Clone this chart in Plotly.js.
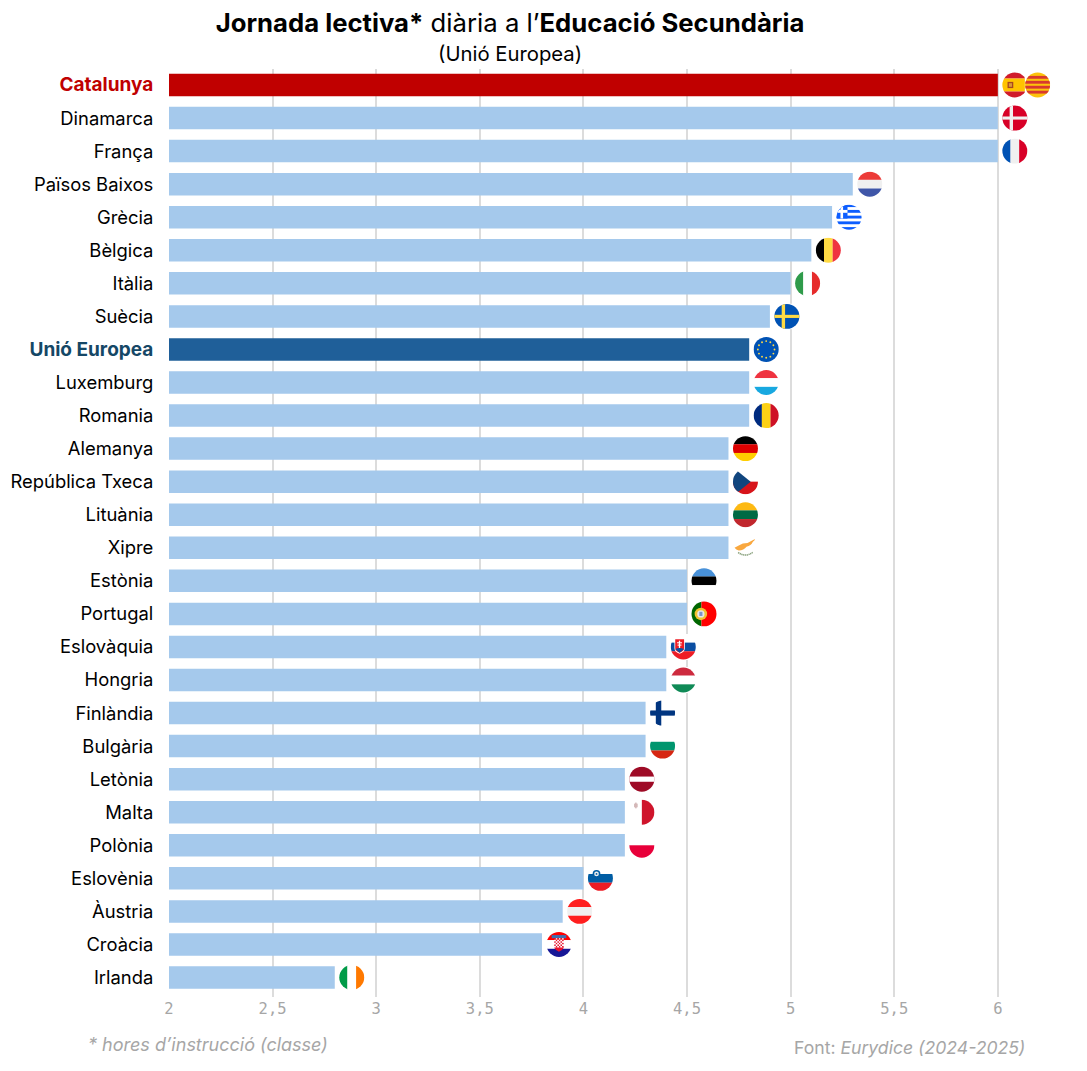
<!DOCTYPE html>
<html><head><meta charset="utf-8">
<script src="https://cdn.plot.ly/plotly-3.0.1.min.js"></script>
<style>html,body{margin:0;padding:0;background:#fff}</style></head>
<body><div id="chart" style="width:1087px;height:1071px"></div>
<script>
const categories = ["Catalunya","Dinamarca","França","Països Baixos","Grècia","Bèlgica","Itàlia","Suècia","Unió Europea","Luxemburg","Romania","Alemanya","República Txeca","Lituània","Xipre","Estònia","Portugal","Eslovàquia","Hongria","Finlàndia","Bulgària","Letònia","Malta","Polònia","Eslovènia","Àustria","Croàcia","Irlanda"];
const hours = [6,6,6,5.3,5.2,5.1,5,4.9,4.8,4.8,4.8,4.7,4.7,4.7,4.7,4.5,4.5,4.4,4.4,4.3,4.3,4.2,4.2,4.2,4,3.9,3.8,2.8];
const flagCodes = ["ES","DK","FR","NL","GR","BE","IT","SE","EU","LU","RO","DE","CZ","LT","CY","EE","PT","SK","HU","FI","BG","LV","MT","PL","SI","AT","HR","IE"];
const xTickVals = [2,2.5,3,3.5,4,4.5,5,5.5,6];
const xTickText = ["2","2,5","3","3,5","4","4,5","5","5,5","6"];
const LIGHT = "#a5c9ec", RED = "#c00000", BLUE = "#1f5f99";
const FONT = "Inter";

function rect(x,y,w,h,c){return `<rect x="${x}" y="${y}" width="${w}" height="${h}" fill="${c}"/>`;}
function H(c){const h=100/c.length;return c.map((k,i)=>rect(0,i*h,100,h+.3,k)).join("");}
function V(c){const w=100/c.length;return c.map((k,i)=>rect(i*w,0,w+.3,100,k)).join("");}
function stars(){let s=rect(0,0,100,100,"#0052b4");for(let i=0;i<12;i++){const a=i*Math.PI/6;s+=`<circle cx="${50+32*Math.cos(a)}" cy="${50+32*Math.sin(a)}" r="3.6" fill="#ffda44"/>`;}return s;}
function checker(x,y,n,s){let o="";for(let i=0;i<n;i++)for(let j=0;j<n;j++)o+=rect(x+i*s,y+j*s,s,s,(i+j)%2?"#fff":"#e8112d");return o;}
const flagBodies = {
 ES: H(["#d01c2b","#ffc400","#ffc400","#d01c2b"])+rect(22,38,22,24,"#a8481f")+rect(27,43,12,14,"#d89a3a"),
 CAT: rect(0,0,100,100,"#fcc30b")+[15,34,53,72].map(y=>rect(0,y,100,11,"#d8392f")).join(""),
 DK: rect(0,0,100,100,"#d80027")+rect(30,0,13,100,"#f0f0f0")+rect(0,44,100,12,"#f0f0f0"),
 FR: V(["#0052b4","#f0f0f0","#d80027"]),
 NL: H(["#ec3b38","#f0f0f0","#3f56a8"]),
 GR: rect(0,0,100,100,"#fff")+[0,22,44,66,88].map(y=>rect(0,y,100,11,"#0d5eff")).join("")+rect(0,0,44,55,"#0d5eff")+rect(17,0,10,55,"#fff")+rect(0,22,44,11,"#fff"),
 BE: V(["#000000","#ffda44","#ef3340"]),
 IT: V(["#2f9b4a","#ffffff","#e62b2b"]),
 SE: rect(0,0,100,100,"#0052b4")+rect(30,0,13,100,"#ffda44")+rect(0,44,100,12,"#ffda44"),
 EU: stars(),
 LU: H(["#ef3340","#ffffff","#18a8e0"]),
 RO: V(["#002b7f","#fcd116","#ce1126"]),
 DE: H(["#000000","#dd0000","#ffce00"]),
 CZ: H(["#ffffff","#d7141a"])+`<polygon points="0,0 0,100 8,100 70,50 8,0" fill="#11457e"/>`,
 LT: H(["#fdb913","#006a44","#c1272d"]),
 CY: rect(0,0,100,100,"#fff")+`<path d="M8 50 Q28 40 40 34 Q60 34 72 24 L94 12 L78 28 Q72 42 54 46 Q44 60 24 60 Q14 58 8 50Z" fill="#f9a83f"/><path d="M22 68 Q48 88 78 68" stroke="#8aa27e" stroke-width="6" fill="none" stroke-dasharray="5 2"/>`,
 EE: H(["#4891d9","#000000","#ffffff"]),
 PT: rect(0,0,40,100,"#006600")+rect(40,0,60,100,"#ff0000")+`<circle cx="38" cy="50" r="24" fill="#f2c230"/><circle cx="38" cy="50" r="14" fill="#e8e8e8"/>`+rect(32,42,12,16,"#7d93c9"),
 SK: H(["#ffffff","#0b4ea2","#ee1c25"])+`<g transform="translate(0,16)"><path d="M16 2 H56 V38 Q56 54 36 60 Q16 54 16 38Z" fill="#fff"/><path d="M19 4 H53 V38 Q53 50 36 56 Q19 50 19 38Z" fill="#ee1c25"/>`+rect(33,10,5,28,"#fff")+rect(26,16,19,4,"#fff")+rect(28,25,15,4,"#fff")+`<path d="M19 42 Q36 34 53 42 L36 56Z" fill="#0b4ea2"/></g>`,
 HU: H(["#cd2a3e","#ffffff","#0f8a56"]),
 FI: rect(0,0,100,100,"#fff")+rect(24,0,21,100,"#003580")+rect(0,40,100,20,"#003580"),
 BG: H(["#ffffff","#00966e","#d62612"]),
 LV: rect(0,0,100,100,"#9e0b26")+rect(0,40,100,20,"#ffffff"),
 MT: rect(50,0,50,100,"#cf142b")+rect(20,17,14,14,"#d4b8b8")+rect(24,13,6,22,"#d4b8b8"),
 PL: H(["#ffffff","#e8003a"]),
 SI: H(["#ffffff","#005da4","#ed1c24"])+`<circle cx="35" cy="33" r="15" fill="#005da4"/><circle cx="35" cy="33" r="9" fill="#f0f0f0"/><circle cx="35" cy="33" r="3.5" fill="#005da4"/>`,
 AT: H(["#ff1f1f","#f0f0f0","#ff1f1f"]),
 HR: H(["#ff0000","#ffffff","#171796"])+rect(22,14,56,12,"#3f6fb0")+checker(32,26,6,6)+`<path d="M32 62 H68 V64 Q60 76 50 78 Q40 76 32 64Z" fill="#e8112d"/>`,
 IE: V(["#009b48","#ffffff","#ff7900"])
};
function flagUri(code){
 const svg=`<svg xmlns="http://www.w3.org/2000/svg" width="104" height="104" viewBox="0 0 100 100"><rect width="100" height="100" fill="#fff"/><clipPath id="c"><circle cx="50" cy="50" r="48"/></clipPath><g clip-path="url(#c)">${flagBodies[code]}</g></svg>`;
 return "data:image/svg+xml;charset=utf-8,"+encodeURIComponent(svg);
}
const FLAG_GAP = 0.082, FLAG_W = 0.1255, FLAG_H = 0.787;
const images = categories.map((c,i)=>({source:flagUri(flagCodes[i]),xref:"x",yref:"y",x:hours[i]+FLAG_GAP,y:c,sizex:FLAG_W,sizey:FLAG_H,xanchor:"center",yanchor:"middle",sizing:"stretch",layer:"above"}));
images.push({source:flagUri("CAT"),xref:"x",yref:"y",x:hours[0]+FLAG_GAP+0.11,y:categories[0],sizex:FLAG_W,sizey:FLAG_H,xanchor:"center",yanchor:"middle",sizing:"stretch",layer:"above"});

const tickLabels = categories.map(c=> c==="Catalunya" ? `<b><span style="color:${RED};font-size:19px">${c}</span></b>` : c==="Unió Europea" ? `<b><span style="color:#154766;font-size:19px">${c}</span></b>` : c);
const barColors = categories.map(c=> c==="Catalunya"?RED : c==="Unió Europea"?BLUE : LIGHT);

Plotly.newPlot("chart",[{type:"bar",orientation:"h",x:hours,y:categories,width:0.68,marker:{color:barColors,line:{width:0}},hoverinfo:"x+y"}],{
 width:1087,height:1071,paper_bgcolor:"#fff",plot_bgcolor:"#fff",showlegend:false,
 margin:{l:168.5,r:27,t:69,b:74,pad:0},
 font:{family:FONT,color:"#000"},
 title:{text:"<b>Jornada lectiva*</b> diària a l’<b>Educació Secundària</b>",x:510/1087,xanchor:"center",xref:"container",y:1-23/1071,yanchor:"middle",font:{family:FONT,size:25.7,color:"#000"}},
 xaxis:{type:"linear",range:[2,6.3],tickmode:"array",tickvals:xTickVals,ticktext:xTickText,showgrid:true,gridcolor:"#dcdcdc",gridwidth:1.5,zeroline:false,showline:false,ticks:"",tickfont:{family:"DejaVu Sans Mono",size:15.5,color:"#a6a6a6"}},
 yaxis:{type:"category",categoryorder:"array",categoryarray:categories,range:[27.59,-0.484],tickmode:"array",tickvals:categories,ticktext:tickLabels,showgrid:false,zeroline:false,showline:false,ticks:"outside",ticklen:11,tickcolor:"rgba(0,0,0,0)",tickfont:{family:FONT,size:18.4,color:"#000"}},
 images:images,
 annotations:[
  {text:"(Unió Europea)",xref:"paper",yref:"paper",x:(510-168.5)/891.5,y:(997-53)/928,xanchor:"center",yanchor:"middle",showarrow:false,font:{family:FONT,size:20.3,color:"#000"}},
  {text:"<i>* hores d’instrucció (classe)</i>",xref:"paper",yref:"paper",x:(85-168.5)/891.5,y:-(1044-997)/928,xanchor:"left",yanchor:"middle",showarrow:false,font:{family:FONT,size:18,color:"#a6a6a6"}},
  {text:"Font: <i>Eurydice (2024-2025)</i>",xref:"paper",yref:"paper",x:(1027-168.5)/891.5,y:-(1047-997)/928,xanchor:"right",yanchor:"middle",showarrow:false,font:{family:FONT,size:17.6,color:"#a6a6a6"}}
 ]
},{displayModeBar:false,responsive:false});
</script></body></html>
